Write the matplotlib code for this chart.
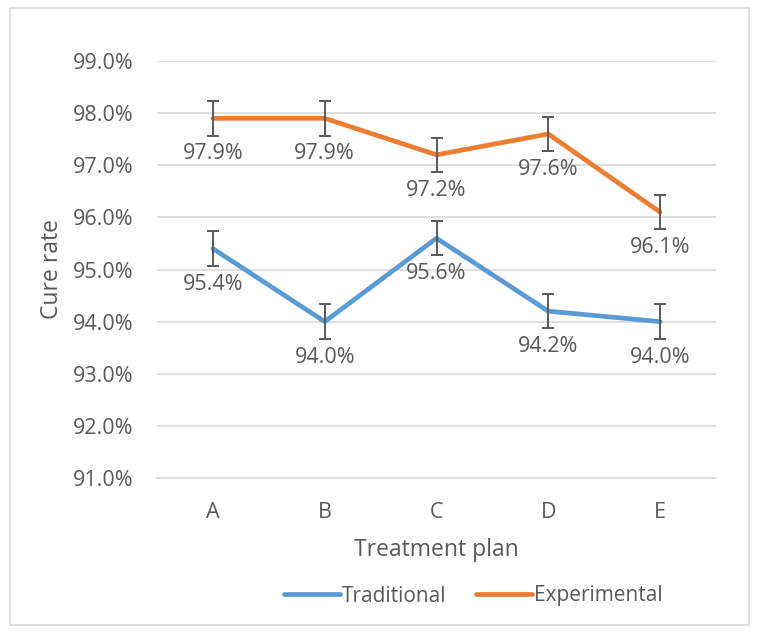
import matplotlib
matplotlib.use("Agg")
import matplotlib.pyplot as plt
from matplotlib.patches import Rectangle
from matplotlib.ticker import FuncFormatter

plt.rcParams["font.family"] = ["Open Sans", "DejaVu Sans"]

# -------------------------------
# Data
# -------------------------------
plans = ["A", "B", "C", "D", "E"]
traditional = [95.4, 94.0, 95.6, 94.2, 94.0]
experimental = [97.9, 97.9, 97.2, 97.6, 96.1]
err = 0.33

text_col = "#595959"
blue = "#5B9BD5"
orange = "#ED7D31"

fig = plt.figure(figsize=(7.57, 6.33), dpi=100)
ax = fig.add_axes([157 / 757, 1 - 478 / 633, (716 - 157) / 757, (478 - 61) / 633])

# outer chart border
fig.patches.append(Rectangle((10 / 757, 8 / 633), 739 / 757, 617 / 633,
                             transform=fig.transFigure, fill=False,
                             edgecolor="#D9D9D9", linewidth=1.2))

x = list(range(len(plans)))
for vals, col, name in [(traditional, blue, "Traditional"), (experimental, orange, "Experimental")]:
    ax.plot(x, vals, color=col, linewidth=3.4, solid_capstyle="round", label=name, zorder=3)
    ax.errorbar(x, vals, yerr=err, fmt="none", ecolor="#595959", elinewidth=1.4,
                capsize=4.5, capthick=1.4, zorder=4)
    for xi, v in zip(x, vals):
        ax.annotate(f"{v:.1f}%", (xi, v), xytext=(0, -25.5), textcoords="offset points",
                    ha="center", va="center", fontsize=15.5, color=text_col, zorder=5)

ax.set_xlim(-0.5, len(plans) - 0.5)
ax.set_ylim(91, 99)
ax.set_yticks([91, 92, 93, 94, 95, 96, 97, 98, 99])
ax.yaxis.set_major_formatter(FuncFormatter(lambda v, p: f"{v:.1f}%"))
ax.set_xticks(x)
ax.set_xticklabels(plans)
ax.grid(axis="y", color="#D9D9D9", linewidth=1.2)
ax.set_axisbelow(True)
for s in ax.spines.values():
    s.set_visible(False)
ax.spines["bottom"].set_visible(True)
ax.spines["bottom"].set_color("#D9D9D9")
ax.spines["bottom"].set_linewidth(1.2)
ax.tick_params(length=0, labelsize=15.5, colors=text_col)
ax.tick_params(axis="y", pad=17)
ax.tick_params(axis="x", pad=17)

ax.set_xlabel("Treatment plan", fontsize=16.5, color=text_col, labelpad=11)
fig.text(52 / 757, 1 - 269 / 633, "Cure rate", rotation=90, ha="center", va="center",
         fontsize=16.5, color=text_col)

fig.legend(loc="center", bbox_to_anchor=(473 / 757, 1 - 596 / 633), ncol=2, frameon=False,
           fontsize=15, labelcolor=text_col, handlelength=2.7, handletextpad=0.1,
           columnspacing=1.4)

fig.savefig("out.png", dpi=100)
